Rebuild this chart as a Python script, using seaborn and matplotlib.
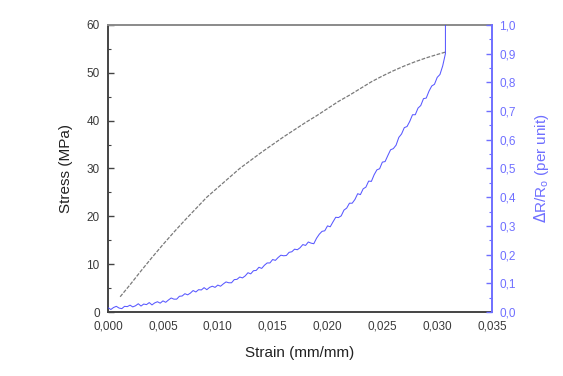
import numpy as np
import pandas as pd
import matplotlib
matplotlib.use("Agg")
import matplotlib.pyplot as plt
from matplotlib.ticker import MultipleLocator, FuncFormatter
import seaborn as sns

# Stress-strain curve (MPa)
strain_stress = [0.0011, 0.002, 0.003, 0.004, 0.005, 0.006, 0.007, 0.008, 0.009,
                 0.010, 0.011, 0.012, 0.013, 0.014, 0.015, 0.016, 0.017, 0.018,
                 0.019, 0.020, 0.021, 0.022, 0.023, 0.024, 0.025, 0.026, 0.027,
                 0.028, 0.029, 0.030, 0.03075]
stress = [3.2, 5.7, 8.6, 11.4, 14.1, 16.7, 19.2, 21.6, 24.0,
          26.0, 28.0, 30.0, 31.7, 33.4, 35.0, 36.6, 38.1, 39.6,
          41.0, 42.5, 44.0, 45.3, 46.7, 48.1, 49.3, 50.4, 51.4,
          52.3, 53.1, 53.8, 54.3]

# Relative resistance change, sampled every 0.00025 mm/mm
resistance = [
    0.015, 0.009, 0.016, 0.020, 0.014, 0.012, 0.020, 0.019, 0.024, 0.018,
    0.022, 0.029, 0.021, 0.028, 0.026, 0.033, 0.025, 0.032, 0.036, 0.031,
    0.039, 0.034, 0.042, 0.049, 0.045, 0.045, 0.055, 0.056, 0.064, 0.060,
    0.066, 0.075, 0.070, 0.078, 0.077, 0.085, 0.078, 0.086, 0.090, 0.086,
    0.094, 0.090, 0.098, 0.105, 0.102, 0.102, 0.113, 0.114, 0.122, 0.119,
    0.126, 0.137, 0.133, 0.144, 0.145, 0.156, 0.152, 0.163, 0.171, 0.171,
    0.183, 0.180, 0.190, 0.198, 0.196, 0.197, 0.208, 0.210, 0.219, 0.217,
    0.224, 0.235, 0.232, 0.244, 0.240, 0.238, 0.257, 0.271, 0.281, 0.283,
    0.300, 0.297, 0.314, 0.330, 0.329, 0.335, 0.355, 0.362, 0.379, 0.379,
    0.392, 0.412, 0.409, 0.429, 0.435, 0.456, 0.455, 0.478, 0.495, 0.499,
    0.522, 0.524, 0.545, 0.565, 0.569, 0.581, 0.608, 0.620, 0.642, 0.646,
    0.664, 0.687, 0.687, 0.710, 0.719, 0.743, 0.745, 0.769, 0.787, 0.793,
    0.817, 0.827, 0.857, 0.900,
    1.05,   # jump at rupture
]
strain_resistance = list(np.round(np.arange(124) * 0.00025, 5)) + [0.03075]

stress_df = pd.DataFrame({"strain": strain_stress, "stress": stress})
res_df = pd.DataFrame({"strain": strain_resistance, "dR": resistance})

sns.set_style("white")
plt.rcParams["font.family"] = ["Liberation Sans", "DejaVu Sans"]

blue = "#4646ff"
blue_axis = "#6f6fff"
dark = "#444444"

fig = plt.figure(figsize=(5.63, 3.76), dpi=100)
ax = fig.add_axes([0.192, 0.170, 0.682, 0.764])
ax2 = ax.twinx()

sns.lineplot(data=stress_df, x="strain", y="stress", ax=ax, color="#7a7a7a",
             linewidth=0.9, linestyle=(0, (3, 1.2)), estimator=None, sort=False)
sns.lineplot(data=res_df, x="strain", y="dR", ax=ax2, color=blue, alpha=0.9,
             linewidth=0.75, estimator=None, sort=False)

ax.set_xlim(0, 0.035)
ax.set_ylim(0, 60)
ax2.set_ylim(0, 1.0)

ax.xaxis.set_major_locator(MultipleLocator(0.005))
ax.xaxis.set_minor_locator(MultipleLocator(0.0025))
ax.yaxis.set_major_locator(MultipleLocator(10))
ax.yaxis.set_minor_locator(MultipleLocator(5))
ax2.yaxis.set_major_locator(MultipleLocator(0.1))
ax2.yaxis.set_minor_locator(MultipleLocator(0.05))

ax.xaxis.set_major_formatter(FuncFormatter(lambda v, p: f"{v:.3f}".replace(".", ",")))
ax.yaxis.set_major_formatter(FuncFormatter(lambda v, p: f"{v:.0f}"))
ax2.yaxis.set_major_formatter(FuncFormatter(lambda v, p: f"{v:.1f}".replace(".", ",")))

ax.tick_params(axis="both", which="major", direction="in", length=4, width=1,
               colors=dark, labelsize=8.5, labelcolor="#3a3a3a", pad=6)
ax.tick_params(axis="both", which="minor", direction="in", length=2, width=0.8, colors=dark)
ax2.tick_params(axis="y", which="major", direction="in", length=4, width=1,
                colors=blue_axis, labelsize=8.5, labelcolor=blue_axis, pad=5)
ax2.tick_params(axis="y", which="minor", direction="in", length=2, width=0.8, colors=blue_axis)

for side in ["left", "bottom"]:
    ax.spines[side].set_color(dark)
    ax.spines[side].set_linewidth(1.4)
ax.spines["top"].set_color("#8a8a8a")
ax.spines["top"].set_linewidth(1.4)
ax.spines["right"].set_visible(False)
for side in ["left", "bottom", "top"]:
    ax2.spines[side].set_visible(False)
ax2.spines["right"].set_color(blue_axis)
ax2.spines["right"].set_linewidth(1.4)

ax.set_xlabel("Strain (mm/mm)", fontsize=11, color="#222222", labelpad=10)
ax.set_ylabel("Stress (MPa)", fontsize=11, color="#222222", labelpad=10)
ax2.set_ylabel(r"$\Delta$R/R$_\mathregular{o}$ (per unit)", fontsize=11,
               color=blue_axis, labelpad=12)

fig.savefig("out.png", dpi=100, facecolor="white")
